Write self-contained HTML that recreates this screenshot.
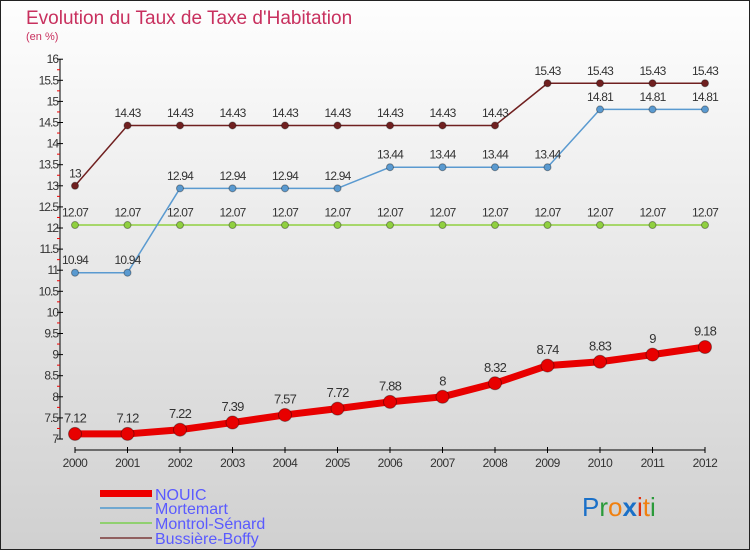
<!DOCTYPE html>
<html><head><meta charset="utf-8"><style>
body{margin:0;width:750px;height:550px;overflow:hidden}
svg{display:block;font-family:"Liberation Sans",sans-serif}
</style></head><body>
<svg width="750" height="550">
<defs><linearGradient id="bg" x1="0" y1="0" x2="0" y2="1"><stop offset="0" stop-color="#fefefe"/><stop offset="1" stop-color="#d0d0d0"/></linearGradient></defs>
<rect x="0.5" y="0.5" width="749" height="549" fill="url(#bg)" stroke="#222"/>
<text x="26" y="24" font-size="19" fill="#c8305e">Evolution du Taux de Taxe d'Habitation</text>
<text x="26" y="40" font-size="11" fill="#c8305e">(en %)</text>
<g id="axes"></g><g id="series"></g>
<g>
<rect x="100" y="490" width="52" height="7" fill="#e00"/>
<text x="155" y="500" font-size="16" fill="#5a5aff">NOUIC</text>
<line x1="100" y1="508" x2="152" y2="508" stroke="#70a8d0" stroke-width="2"/>
<text x="155" y="514" font-size="16" fill="#5a5aff">Mortemart</text>
<line x1="100" y1="523" x2="152" y2="523" stroke="#90d070" stroke-width="2"/>
<text x="155" y="529" font-size="16" fill="#5a5aff">Montrol-Sénard</text>
<line x1="100" y1="538" x2="152" y2="538" stroke="#906060" stroke-width="2"/>
<text x="155" y="544" font-size="16" fill="#5a5aff">Bussière-Boffy</text>
</g>
<g font-size="26" font-family="Liberation Sans, sans-serif">
<text x="582" y="516"><tspan fill="#1a70c8">P</tspan><tspan fill="#2a9a3a">r</tspan><tspan fill="#f08010">o</tspan><tspan fill="#1a70c8" font-weight="bold">x</tspan><tspan fill="#e03010">i</tspan><tspan fill="#f08010">t</tspan><tspan fill="#2a9a3a">i</tspan></text>
</g>
</svg>
<script>
const years=[2000,2001,2002,2003,2004,2005,2006,2007,2008,2009,2010,2011,2012];
const nouic=[7.12,7.12,7.22,7.39,7.57,7.72,7.88,8,8.32,8.74,8.83,9,9.18];
const mortemart=[10.94,10.94,12.94,12.94,12.94,12.94,13.44,13.44,13.44,13.44,14.81,14.81,14.81];
const montrol=[12.07,12.07,12.07,12.07,12.07,12.07,12.07,12.07,12.07,12.07,12.07,12.07,12.07];
const bussiere=[13,14.43,14.43,14.43,14.43,14.43,14.43,14.43,14.43,15.43,15.43,15.43,15.43];
const yTicks=[7,7.5,8,8.5,9,9.5,10,10.5,11,11.5,12,12.5,13,13.5,14,14.5,15,15.5,16];
const NS="http://www.w3.org/2000/svg";
const xs=i=>75+i*52.5;
const ys=v=>439-(v-7)*42.2;
function mk(t,a,p,txt){const e=document.createElementNS(NS,t);for(const k in a)e.setAttribute(k,a[k]);if(txt!==undefined)e.textContent=txt;p.appendChild(e);return e;}
const ax=document.getElementById('axes');
mk('line',{x1:60,y1:ys(16),x2:60,y2:ys(7),stroke:'#000'},ax);
mk('line',{x1:75,y1:450,x2:705,y2:450,stroke:'#000'},ax);
yTicks.forEach(v=>{
 mk('line',{x1:57,y1:ys(v),x2:63,y2:ys(v),stroke:'#000'},ax);
 const t=mk('text',{x:58,y:ys(v)+4,'font-size':12,fill:'#333','text-anchor':'end','letter-spacing':'-1'},ax,String(v));
 
 
 if(v<16)mk('line',{x1:57,y1:ys(v+0.25),x2:60,y2:ys(v+0.25),stroke:'#e00'},ax);
});
years.forEach((y,i)=>{
 mk('line',{x1:xs(i),y1:447,x2:xs(i),y2:453,stroke:'#000'},ax);
 const t=mk('text',{x:xs(i),y:467,'font-size':12,fill:'#333','text-anchor':'middle','letter-spacing':'-0.5'},ax,String(y));
 
 
});
const sg=document.getElementById('series');
function series(vals,color,w,r,name,fs){
 const g=mk('g',{},sg);
 
 
 mk('polyline',{points:vals.map((v,i)=>xs(i)+','+ys(v)).join(' '),fill:'none',stroke:color,'stroke-width':w,'stroke-linejoin':'round'},g);
 vals.forEach((v,i)=>{
  const c=mk('circle',{cx:xs(i),cy:ys(v),r:r,fill:color,stroke:'rgba(0,0,0,0.35)','stroke-width':1},g);
  
  
  mk('text',{x:xs(i),y:ys(v)-(r+5),'font-size':fs,fill:'#333','text-anchor':'middle','letter-spacing':'-0.8'},g,String(v));
 });
}
series(montrol,'#90d040',1.5,3.5,'series-montrol-senard',12);
series(mortemart,'#5a9ad0',1.5,3.5,'series-mortemart',12);
series(bussiere,'#702020',1.5,3.5,'series-bussiere-boffy',12);
series(nouic,'#e80000',7,6.5,'series-nouic',13);
</script>
</body></html>
